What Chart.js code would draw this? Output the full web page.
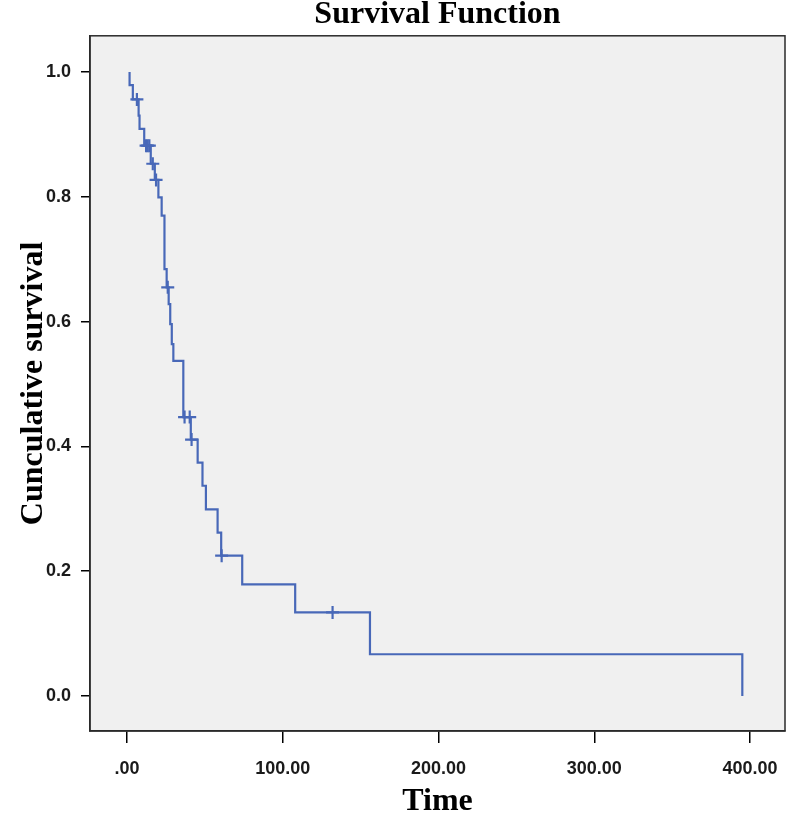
<!DOCTYPE html>
<html>
<head>
<meta charset="utf-8">
<script src="https://cdn.jsdelivr.net/npm/chart.js@4/dist/chart.umd.min.js"></script>
<style>
	html, body { margin: 0; padding: 0; background: #ffffff; }
	#myChart { display: block; }
</style>
</head>
<body>
<canvas id="myChart" width="800" height="818"></canvas>
<script>
// Kaplan-Meier: tiempos de evento y supervivencia tras cada caída
const eventTimes = [1.7, 3.8, 7.5, 8.1, 11.1, 15.3, 17.9, 20.2, 22.3, 24.1, 25.5, 26.8, 27.8, 28.8, 29.8, 36.2, 41.0, 45.4, 48.5, 50.7, 58.2, 60.5, 74.0, 108.0, 156.0, 395.0];
const survival = [0.979, 0.956, 0.930, 0.909, 0.882, 0.853, 0.827, 0.799, 0.770, 0.684, 0.655, 0.628, 0.596, 0.564, 0.537, 0.447, 0.411, 0.374, 0.337, 0.299, 0.262, 0.225, 0.179, 0.134, 0.067, 0.000];

// Censurados (marcas +)
const censorTimes = [6.4, 12.3, 13.3, 14.4, 16.6, 18.7, 26.2, 37.0, 40.3, 41.5, 60.8, 132.0];
const censorSurv = [0.956, 0.882, 0.882, 0.882, 0.853, 0.827, 0.655, 0.447, 0.447, 0.411, 0.225, 0.134];

const startTime = 1.7;
const xTicks = [0, 100, 200, 300, 400];
const yTicks = [0, 0.2, 0.4, 0.6, 0.8, 1.0];

const curveColor = '#4868b8';

const stepData = [{ x: startTime, y: 1 }].concat(
	eventTimes.map((t, i) => ({ x: t, y: survival[i] })),
);
const censorData = censorTimes.map((t, i) => ({ x: t, y: censorSurv[i] }));

// fondo gris y marco del área de trazado
const plotFrame = {
	id: 'plotFrame',
	beforeDraw(chart) {
		const { ctx, chartArea: a } = chart;
		ctx.save();
		ctx.fillStyle = '#f0f0f0';
		ctx.fillRect(a.left, a.top, a.right - a.left, a.bottom - a.top);
		ctx.restore();
	},
	afterDraw(chart) {
		const { ctx, chartArea: a } = chart;
		ctx.save();
		ctx.strokeStyle = '#2a2a2a';
		ctx.lineWidth = 1.5;
		ctx.strokeRect(a.left, a.top, a.right - a.left, a.bottom - a.top);
		ctx.restore();
	},
};

const tickFont = { family: '"Liberation Sans", Arial, sans-serif', size: 18, weight: 'bold' };
const serifBold = '"Liberation Serif", "Times New Roman", serif';

const ctx = document.getElementById('myChart').getContext('2d');
const myChart = new Chart(ctx, {
	type: 'scatter',
	data: {
		datasets: [
			{
				label: 'Survival Function',
				data: stepData,
				showLine: true,
				stepped: true,
				borderColor: curveColor,
				borderWidth: 2.2,
				pointRadius: 0,
				fill: false,
			},
			{
				label: 'Censored',
				data: censorData,
				showLine: false,
				pointStyle: 'cross',
				pointRadius: 6.5,
				borderColor: curveColor,
				borderWidth: 2.2,
			},
		],
	},
	options: {
		responsive: false,
		animation: false,
		layout: { padding: { left: 0, right: 15, top: 0, bottom: 0 } },
		scales: {
			x: {
				type: 'linear',
				min: -23.7,
				max: 422.4,
				afterBuildTicks: (scale) => {
					scale.ticks = xTicks.map((v) => ({ value: v }));
				},
				afterFit: (scale) => {
					scale.height = 87;
				},
				ticks: {
					padding: 15,
					color: '#1a1a1a',
					font: tickFont,
					callback: (v) => (v === 0 ? '.00' : v.toFixed(2)),
				},
				grid: {
					drawOnChartArea: false,
					drawTicks: true,
					tickLength: 12,
					color: '#000000',
					lineWidth: 1.5,
				},
				border: { display: true, color: '#2a2a2a', width: 1.5 },
				title: {
					display: true,
					text: 'Time',
					color: '#000000',
					font: { family: serifBold, size: 32, weight: 'bold', lineHeight: 1 },
					padding: { top: 0, bottom: 0 },
				},
			},
			y: {
				type: 'linear',
				min: -0.056,
				max: 1.058,
				afterBuildTicks: (scale) => {
					scale.ticks = yTicks.map((v) => ({ value: v }));
				},
				afterFit: (scale) => {
					scale.width = 90;
				},
				ticks: {
					padding: 10,
					color: '#1a1a1a',
					font: tickFont,
					callback: (v) => v.toFixed(1),
				},
				grid: {
					drawOnChartArea: false,
					drawTicks: true,
					tickLength: 9,
					color: '#000000',
					lineWidth: 1.5,
				},
				border: { display: true, color: '#2a2a2a', width: 1.5 },
				title: {
					display: true,
					text: 'Cunculative survival',
					color: '#000000',
					font: { family: serifBold, size: 32, weight: 'bold', lineHeight: 1.2 },
					padding: { top: 15, bottom: 0 },
				},
			},
		},
		plugins: {
			legend: { display: false },
			tooltip: { enabled: false },
			title: {
				display: true,
				fullSize: false,
				text: 'Survival Function',
				color: '#000000',
				font: { family: serifBold, size: 32, weight: 'bold', lineHeight: 0.9 },
				padding: { top: 0, bottom: 7 },
			},
		},
	},
	plugins: [plotFrame],
});
</script>
</body>
</html>
